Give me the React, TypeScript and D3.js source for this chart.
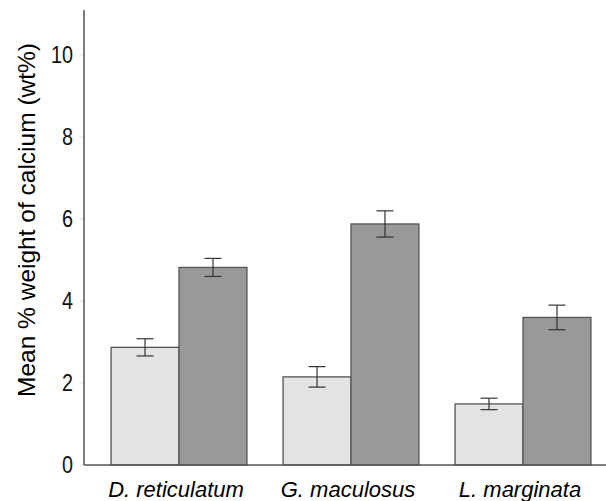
import React from "react";
import * as d3 from "d3";

const categories = ["D. reticulatum", "G. maculosus", "L. marginata"];
const seriesLight = [2.87, 2.15, 1.49];
const seriesLightErr = [0.21, 0.25, 0.14];
const seriesDark = [4.82, 5.88, 3.6];
const seriesDarkErr = [0.22, 0.32, 0.3];
const yTicks = [0, 2, 4, 6, 8, 10];
const yTitle = "Mean % weight of calcium (wt%)";

const W = 606;
const H = 501;

export default function App() {
  const y = d3.scaleLinear().domain([0, 11.1]).range([465, 10]);
  const x = d3.scaleBand<string>().domain(categories).range([93, 609]).paddingInner(0.21).paddingOuter(0.105);
  const sub = d3.scaleBand<string>().domain(["a", "b"]).range([0, x.bandwidth()]);
  const series = [
    { key: "a", vals: seriesLight, errs: seriesLightErr, fill: "#e3e3e3" },
    { key: "b", vals: seriesDark, errs: seriesDarkErr, fill: "#999999" },
  ];
  const font = "Arial, 'Liberation Sans', sans-serif";
  return (
    <svg width={W} height={H} style={{ position: "absolute", left: 0, top: 0 }} fontFamily={font}>
      {yTicks.map((t) => (
        <g key={t}>
          <line x1={80} x2={84} y1={y(t)} y2={y(t)} stroke="#dddddd" />
          <text
            transform={`translate(73,${y(t)}) scale(0.86,1)`}
            dy="0.36em"
            textAnchor="end"
            fontSize={23}
            fill="#111"
          >
            {t}
          </text>
        </g>
      ))}
      {series.map((s) =>
        categories.map((c, i) => {
          const x0 = (x(c) as number) + (sub(s.key) as number);
          const w = sub.bandwidth();
          const cx = x0 + w / 2;
          const v = s.vals[i];
          const e = s.errs[i];
          return (
            <g key={s.key + c}>
              <rect x={x0} y={y(v)} width={w} height={y(0) - y(v)} fill={s.fill} stroke="#555555" strokeWidth={1.3} />
              <line x1={cx} x2={cx} y1={y(v + e)} y2={y(v - e)} stroke="#333" strokeWidth={1.2} />
              <line x1={cx - 8.5} x2={cx + 8.5} y1={y(v + e)} y2={y(v + e)} stroke="#333" strokeWidth={1.2} />
              <line x1={cx - 8.5} x2={cx + 8.5} y1={y(v - e)} y2={y(v - e)} stroke="#333" strokeWidth={1.2} />
            </g>
          );
        })
      )}
      <line x1={84} x2={84} y1={10} y2={465} stroke="#555555" strokeWidth={1.5} />
      <line x1={84} x2={606} y1={465} y2={465} stroke="#555555" strokeWidth={1.5} />
      {categories.map((c) => (
        <text
          key={c}
          x={(x(c) as number) + x.bandwidth() / 2 - 3}
          y={489}
          dy="0.36em"
          textAnchor="middle"
          fontSize={22}
          fontStyle="italic"
        >
          {c}
        </text>
      ))}
      <text transform={`translate(26,220) rotate(-90)`} textAnchor="middle" dy="0.36em" fontSize={24.5}>
        {yTitle}
      </text>
    </svg>
  );
}
